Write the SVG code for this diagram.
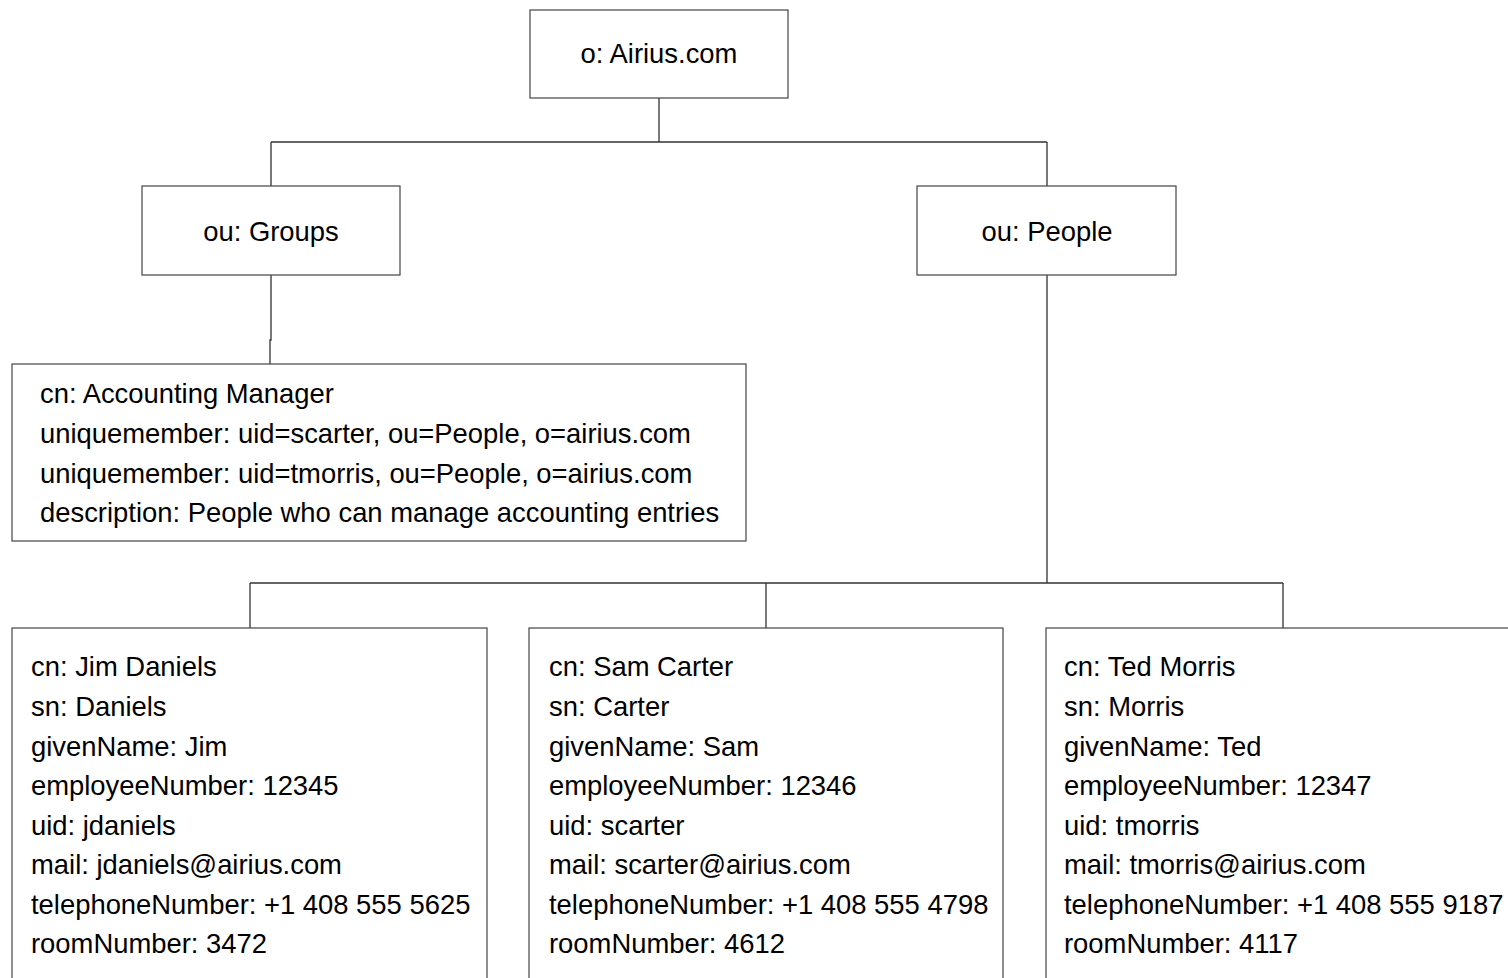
<svg xmlns="http://www.w3.org/2000/svg" width="1508" height="978" viewBox="0 0 1508 978">
<style>
.box{fill:#ffffff;stroke:#444444;stroke-width:1.2}
.con{fill:none;stroke:#333333;stroke-width:1.3}
text{font-family:"Liberation Sans",Arial,sans-serif;font-size:27.4px;fill:#000000}
.c{text-anchor:middle}
</style>
<rect x="0" y="0" width="1508" height="978" fill="#ffffff"/>
<g id="connectors">
<path class="con" d="M659 98V142M271 142H1047M271 142V186M1047 142V186"/>
<path class="con" d="M271 275V340H270V364"/>
<path class="con" d="M1047 275V583M250 583H1283M250 583V628M766 583V628M1283 583V628"/>
</g>
<g id="root">
<rect class="box" x="530" y="10" width="258" height="88"/>
<text class="c" x="659" y="63">o: Airius.com</text>
</g>
<g id="groups">
<rect class="box" x="142" y="186" width="258" height="89"/>
<text class="c" x="271" y="241">ou: Groups</text>
</g>
<g id="people">
<rect class="box" x="917" y="186" width="259" height="89"/>
<text class="c" x="1047" y="241">ou: People</text>
</g>
<g id="accounting">
<rect class="box" x="12" y="364" width="734" height="177"/>
<text x="40" y="403">cn: Accounting Manager</text>
<text x="40" y="443">uniquemember: uid=scarter, ou=People, o=airius.com</text>
<text x="40" y="483">uniquemember: uid=tmorris, ou=People, o=airius.com</text>
<text x="40" y="522">description: People who can manage accounting entries</text>
</g>
<g id="jdaniels">
<rect class="box" x="12" y="628" width="475" height="380"/>
<text x="31" y="676">cn: Jim Daniels</text>
<text x="31" y="716">sn: Daniels</text>
<text x="31" y="756">givenName: Jim</text>
<text x="31" y="795">employeeNumber: 12345</text>
<text x="31" y="835">uid: jdaniels</text>
<text x="31" y="874">mail: jdaniels@airius.com</text>
<text x="31" y="914">telephoneNumber: +1 408 555 5625</text>
<text x="31" y="953">roomNumber: 3472</text>
</g>
<g id="scarter">
<rect class="box" x="529" y="628" width="474" height="380"/>
<text x="549" y="676">cn: Sam Carter</text>
<text x="549" y="716">sn: Carter</text>
<text x="549" y="756">givenName: Sam</text>
<text x="549" y="795">employeeNumber: 12346</text>
<text x="549" y="835">uid: scarter</text>
<text x="549" y="874">mail: scarter@airius.com</text>
<text x="549" y="914">telephoneNumber: +1 408 555 4798</text>
<text x="549" y="953">roomNumber: 4612</text>
</g>
<g id="tmorris">
<rect class="box" x="1046" y="628" width="480" height="380"/>
<text x="1064" y="676">cn: Ted Morris</text>
<text x="1064" y="716">sn: Morris</text>
<text x="1064" y="756">givenName: Ted</text>
<text x="1064" y="795">employeeNumber: 12347</text>
<text x="1064" y="835">uid: tmorris</text>
<text x="1064" y="874">mail: tmorris@airius.com</text>
<text x="1064" y="914">telephoneNumber: +1 408 555 9187</text>
<text x="1064" y="953">roomNumber: 4117</text>
</g>
</svg>
